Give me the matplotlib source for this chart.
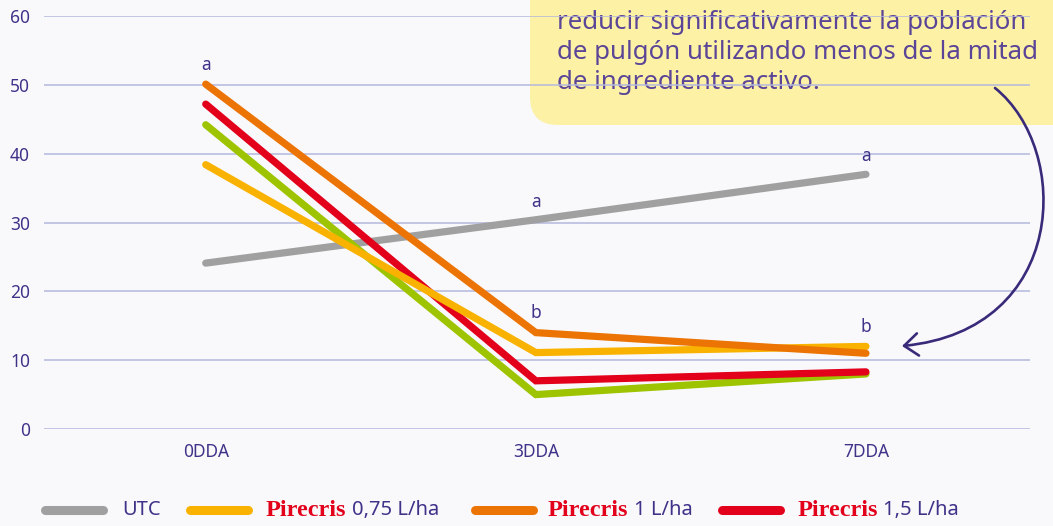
import numpy as np
import matplotlib
matplotlib.use("Agg")
import matplotlib.pyplot as plt
from matplotlib.patches import FancyBboxPatch, FancyArrowPatch
from matplotlib.path import Path

# data
categories = ["0DDA", "3DDA", "7DDA"]
utc = [24.1, 30.4, 37.0]
pirecris_075 = [38.4, 11.1, 12.0]
pirecris_1 = [50.1, 14.0, 11.0]
pirecris_15 = [47.2, 7.0, 8.3]
reference = [44.2, 5.0, 8.0]

letters_utc = ["", "a", "a"]
letters_trt = ["a", "b", "b"]

legend_labels = ["UTC", "0,75 L/ha", "1 L/ha", "1,5 L/ha"]
box_text = ("reducir significativamente la población\n"
            "de pulgón utilizando menos de la mitad\n"
            "de ingrediente activo.")

purple = "#3f3389"
text_purple = "#5a4597"
bg = "#f9f9fc"
grid_c = "#b3b8dc"
c_gray, c_yel, c_ora, c_red, c_grn = "#a0a0a0", "#f9b200", "#ec7404", "#e2001a", "#9ec400"

plt.rcParams['font.family'] = ['Noto Sans', 'DejaVu Sans']

fig = plt.figure(figsize=(10.53, 5.26), dpi=100, facecolor=bg)
W, H = 1053.0, 526.0

def fx(x):
    return x / W

def fy(y):
    return 1 - y / H

# yellow callout box, behind the axes
box = FancyBboxPatch((5.30, (H - 125) / 100), 6.0, 3.0,
                     boxstyle="round,pad=0,rounding_size=0.28",
                     transform=fig.dpi_scale_trans, facecolor="#fdf1a5",
                     edgecolor="none", zorder=-2)
fig.patches.append(box)
fig.text(fx(557), fy(89), box_text, fontsize=18.6, color=text_purple,
         ha="left", va="baseline", linespacing=1.27, zorder=-1)

ax = fig.add_axes([fx(44), fy(429), fx(1030) - fx(44), fy(16) - fy(429)])
ax.set_facecolor("none")
ax.set_zorder(1)

x = np.arange(len(categories))
series = [(utc, c_gray), (reference, c_grn), (pirecris_15, c_red),
          (pirecris_075, c_yel), (pirecris_1, c_ora)]
for vals, col in series:
    ax.plot(x, vals, color=col, lw=5.2, solid_capstyle="round",
            solid_joinstyle="miter", clip_on=False)

trt_max = np.max([pirecris_075, pirecris_1, pirecris_15, reference], axis=0)
for i in range(len(categories)):
    if letters_utc[i]:
        ax.annotate(letters_utc[i], (x[i], utc[i]), xytext=(0, 13),
                    textcoords="offset points", ha="center", va="center",
                    fontsize=12.5, color=purple)
    ax.annotate(letters_trt[i], (x[i], trt_max[i]), xytext=(0, 14),
                textcoords="offset points", ha="center", va="center",
                fontsize=12.5, color=purple)

ax.set_xlim(-0.49, 2.497)
ax.set_ylim(0, 60)
ax.set_yticks(range(0, 61, 10))
ax.set_xticks(x)
ax.set_xticklabels(categories)
ax.yaxis.grid(True, color=grid_c, lw=1.1)
ax.set_axisbelow(True)
for s in ax.spines.values():
    s.set_visible(False)
ax.tick_params(length=0, colors=purple, labelsize=12.5)
ax.tick_params(axis="y", pad=10)
ax.tick_params(axis="x", pad=10)

# curved arrow
verts = [(fx(995), fy(88)), (fx(1072), fy(150)), (fx(1068), fy(330)), (fx(902), fy(346))]
arrow_path = Path(verts, [Path.MOVETO, Path.CURVE4, Path.CURVE4, Path.CURVE4])
arr = FancyArrowPatch(path=arrow_path, transform=fig.transFigure,
                      arrowstyle="->,head_length=0.5,head_width=0.4",
                      mutation_scale=20, color="#3a2a7a", lw=1.9, zorder=5)
fig.patches.append(arr)

# legend, drawn by hand because of the mixed styling
leg_y = fy(510)
leg_items = [(c_gray, 45, 122, False), (c_yel, 190, 266, True),
             (c_ora, 475, 548, True), (c_red, 722, 798, True)]
for (col, lx, tx, brand), lab in zip(leg_items, legend_labels):
    fig.add_artist(plt.Line2D([fx(lx), fx(lx + 58)], [leg_y, leg_y], color=col,
                              lw=6.5, solid_capstyle="round",
                              transform=fig.transFigure))
    if brand:
        t = fig.text(fx(tx), leg_y, "Pirecris", family="Liberation Serif",
                     fontweight="bold", fontsize=17.5, color=c_red,
                     ha="left", va="center")
        fig.canvas.draw()
        bb = t.get_window_extent()
        fig.text(bb.x1 / W + fx(5), leg_y, lab, fontsize=14.5, color=purple,
                 ha="left", va="center")
    else:
        fig.text(fx(tx), leg_y, lab, fontsize=14.5, color=purple,
                 ha="left", va="center")

fig.savefig("out.png", dpi=100, facecolor=bg)
